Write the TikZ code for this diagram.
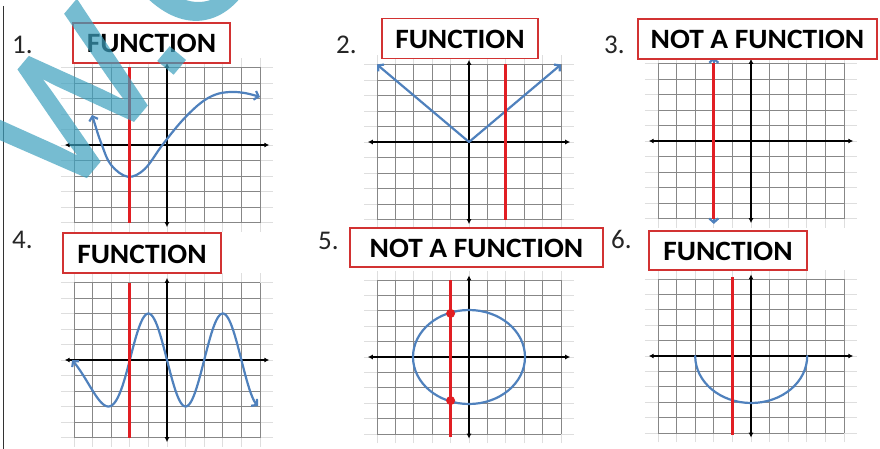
\documentclass[tikz,border=0pt]{standalone}
\usepackage{graphicx}
\usepackage{fontspec}
\setmainfont{Carlito}
\newfontfamily\wmfont[FakeBold=1.5]{Liberation Sans}
\usetikzlibrary{arrows.meta}
\definecolor{fnblue}{RGB}{79,129,189}
\definecolor{fnred}{RGB}{225,30,35}
\definecolor{boxred}{RGB}{210,50,50}
\definecolor{gridc}{RGB}{135,135,135}
\definecolor{faintc}{RGB}{222,222,222}
\definecolor{wmc}{RGB}{60,160,190}
\tikzset{
  gridline/.style={draw=gridc, line width=0.9pt},
  faintline/.style={draw=faintc, line width=0.8pt},
  axisline/.style={draw=black, line width=1.4pt, {Latex[length=5pt,width=5pt]}-{Latex[length=5pt,width=5pt]}},
  redline/.style={draw=fnred, line width=3pt},
  bluecurve/.style={draw=fnblue, line width=2.2pt, line cap=round, line join=round},
  bluearrows/.style={{Straight Barb[length=4pt,width=9pt]}-{Straight Barb[length=4pt,width=9pt]}},
  labelbox/.style={draw=boxred, line width=1.2pt, fill=white, inner sep=0pt, minimum height=40pt, text height=20pt, text depth=0pt, font=\fontsize{28}{30}\selectfont\bfseries},
  numlabel/.style={anchor=base west, inner sep=0pt, font=\fontsize{27}{30}\selectfont, text=black!85},
  reddot/.style={fill=fnred},
}
\newcommand{\fnplane}{%
  \foreach \k in {-5,...,5}{\draw[faintline] (-5.7,\k) -- (5.7,\k); \draw[faintline] (\k,-5.6) -- (\k,5.6);}
  \foreach \k in {-5,...,5}{\draw[gridline] (-5,\k) -- (5,\k); \draw[gridline] (\k,-5) -- (\k,5);}
  \draw[axisline] (-5.5,0) -- (5.5,0);
  \draw[axisline] (0,-5.3) -- (0,5.3);
}
\newcommand{\fnlab}[1]{\scalebox{1.05}[1]{#1}}
\begin{document}
\begin{tikzpicture}[x=1pt,y=-1pt]
\useasboundingbox (0,0) rectangle (880,449);
\fill[white] (0,0) rectangle (880,449);
\draw[black!80, line width=1.2pt] (3.5,6) -- (3.5,449);

% ---------- graph 1
\begin{scope}[shift={(167,145)}, x=18.6pt, y=15.5pt]
  \fnplane
  \draw[bluecurve, bluearrows] plot[smooth, tension=0.6] coordinates {(-4.03,1.94) (-3.5,0) (-3.0,-1.3) (-2.1,-2.05) (-1.2,-1.55) (-0.25,0) (0.8,1.55) (1.8,2.7) (2.6,3.25) (3.4,3.42) (4.2,3.35) (5,3.1)};
  \draw[redline] (-2,-5) -- (-2,5);
\end{scope}

% ---------- graph 2
\begin{scope}[shift={(469,142)}, x=18.4pt, y=15.5pt]
  \fnplane
  \draw[bluecurve, bluearrows] (-5,5) -- (0,0) -- (5,5);
  \draw[redline] (2,-5) -- (2,5);
\end{scope}

% ---------- graph 3
\begin{scope}[shift={(751,141)}, x=18.6pt, y=15.5pt]
  \fnplane
  \draw[bluecurve, bluearrows] (-2,-5.35) -- (-2,5.4);
  \draw[redline] (-2,-5) -- (-2,5);
\end{scope}

% ---------- graph 4
\begin{scope}[shift={(167,360)}, x=18.6pt, y=15.5pt]
  \fnplane
  \draw[bluecurve, bluearrows] plot[domain=-5.1:-2, samples=40] (\x, {3*sin(90*(\x+2) + 10.3*(\x+2)*(\x+2))}) -- plot[domain=-2:4.9, samples=90] (\x, {3*sin(90*(\x+2))});
  \draw[redline] (-2,-5) -- (-2,5);
\end{scope}

% ---------- graph 5
\begin{scope}[shift={(469,357)}, x=18.4pt, y=15.4pt]
  \fnplane
  \draw[bluecurve] (0,0) ellipse [x radius=56pt, y radius=47pt];
  \draw[redline] (-1,-5.2) -- (-1,5);
  \fill[reddot] (-1,2.83) circle [radius=4.5pt];
  \fill[reddot] (-1,-2.83) circle [radius=4.5pt];
\end{scope}

% ---------- graph 6
\begin{scope}[shift={(751,356)}, x=18.6pt, y=15.4pt]
  \fnplane
  \draw[bluecurve] (-3,0) arc [start angle=180, end angle=360, x radius=56pt, y radius=47pt];
  \draw[redline] (-1,-5.1) -- (-1,5.1);
\end{scope}

% ---------- labels
\node[labelbox, minimum width=157pt] (lab1) at (151.5,43) {\fnlab{FUNCTION}};
\node[labelbox, minimum width=156pt] (lab2) at (460,38.5) {\fnlab{FUNCTION}};
\node[labelbox, minimum width=239pt] (lab3) at (757.5,39) {\fnlab{NOT A FUNCTION}};
\node[labelbox, minimum width=158pt] (lab4) at (142,253) {\fnlab{FUNCTION}};
\node[labelbox, minimum width=253pt, minimum height=39pt] (lab5) at (476.5,247.5) {\fnlab{NOT A FUNCTION}};
\node[labelbox, minimum width=158pt, minimum height=39pt] (lab6) at (728,250.5) {\fnlab{FUNCTION}};

\node[numlabel] (n1) at (12,54) {1.};
\node[numlabel] (n2) at (336,54) {2.};
\node[numlabel] (n3) at (604,54) {3.};
\node[numlabel] (n4) at (12,248) {4.};
\node[numlabel] (n5) at (318,249) {5.};
\node[numlabel] (n6) at (611,248) {6.};

% ---------- watermark
\begin{scope}[transparency group, opacity=0.7]
  \clip (0,0) rectangle (880,449);
  \node[rotate=50, anchor=base, inner sep=0pt, text=wmc, font=\wmfont\fontsize{175}{175}\selectfont] (wm) at (169.4,77.7) {W.C};
\end{scope}
\end{tikzpicture}
\end{document}
